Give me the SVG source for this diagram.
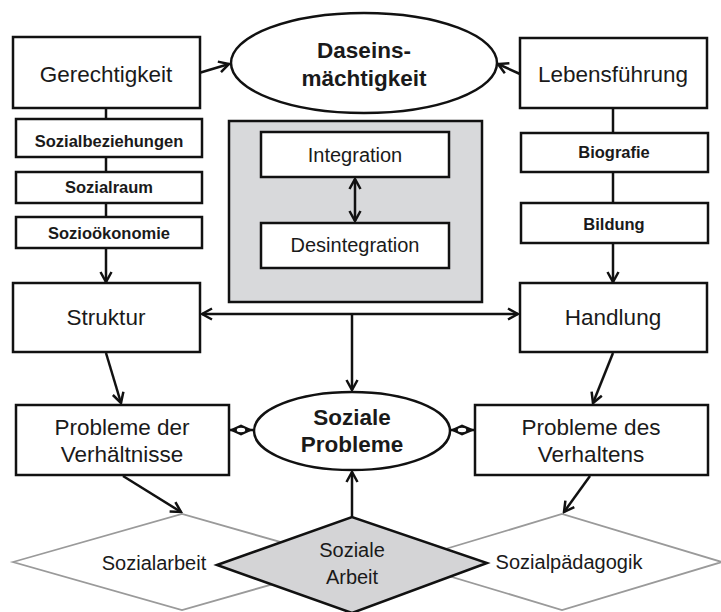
<svg xmlns="http://www.w3.org/2000/svg" width="721" height="612" viewBox="0 0 721 612">
<defs>
<style>
.box{fill:#fff;stroke:#111;stroke-width:2.5}
.t{font-family:"Liberation Sans",Arial,sans-serif;fill:#1a1a1a;text-anchor:middle}
.big{font-size:22.5px}
.bold{font-weight:bold}
.small{font-size:16.5px;font-weight:bold}
.mid{font-size:20px}
.c{stroke:#111;stroke-width:2.5;fill:none}
.ld{fill:#fff;stroke:#9a9a9a;stroke-width:1.8}
</style>
<marker id="ah" markerUnits="userSpaceOnUse" markerWidth="14" markerHeight="14" refX="12" refY="7" orient="auto-start-reverse">
<path d="M2,1.5 L12,7 L2,12.5" fill="none" stroke="#111" stroke-width="2.5"/>
</marker>
</defs>
<rect width="721" height="612" fill="#fff"/>

<g id="sozialarbeit">
<polygon class="ld" points="13,562 182,514 351,562 182,610"/>
<text class="t mid" x="154" y="570">Sozialarbeit</text>
</g>
<g id="sozialpaedagogik">
<polygon class="ld" points="402,562 562,514 722,562 562,610"/>
<text class="t mid" x="569" y="569">Sozialpädagogik</text>
</g>
<g id="integration-container">
<rect x="229" y="121" width="253" height="181" fill="#d8d9db" stroke="#111" stroke-width="2.5"/>
</g>

<g id="connectors">
<line class="c" x1="199" y1="73" x2="229" y2="64" marker-end="url(#ah)"/>
<line class="c" x1="520" y1="74" x2="498" y2="64" marker-end="url(#ah)"/>
<line class="c" x1="106" y1="108" x2="106" y2="119"/>
<line class="c" x1="106" y1="157" x2="106" y2="172"/>
<line class="c" x1="106" y1="203" x2="106" y2="217"/>
<line class="c" x1="106" y1="248" x2="106" y2="282" marker-end="url(#ah)"/>
<line class="c" x1="613" y1="108" x2="613" y2="133"/>
<line class="c" x1="613" y1="172" x2="613" y2="203"/>
<line class="c" x1="613" y1="243" x2="613" y2="282" marker-end="url(#ah)"/>
<line class="c" x1="355" y1="179" x2="355" y2="221" marker-start="url(#ah)" marker-end="url(#ah)"/>
<line class="c" x1="202" y1="314" x2="518" y2="314" marker-start="url(#ah)" marker-end="url(#ah)"/>
<line class="c" x1="352" y1="314" x2="352" y2="390" marker-end="url(#ah)"/>
<line class="c" x1="106" y1="353" x2="121" y2="403" marker-end="url(#ah)"/>
<line class="c" x1="613" y1="353" x2="593" y2="403" marker-end="url(#ah)"/>
<line class="c" x1="123" y1="476" x2="181" y2="512" marker-end="url(#ah)"/>
<line class="c" x1="590" y1="476" x2="564" y2="512" marker-end="url(#ah)"/>
<line class="c" x1="352" y1="517" x2="352" y2="472" marker-end="url(#ah)"/>
<line class="c" x1="229" y1="430" x2="253" y2="430"/>
<path d="M229,430 L241,424.5 L253,430 L241,435.5 Z" fill="#111"/>
<ellipse cx="241" cy="430" rx="5" ry="3" fill="#fff" stroke="#111" stroke-width="1.5"/>
<line class="c" x1="450" y1="430" x2="475" y2="430"/>
<path d="M450,430 L462,424.5 L475,430 L462,435.5 Z" fill="#111"/>
<ellipse cx="462" cy="430" rx="5" ry="3" fill="#fff" stroke="#111" stroke-width="1.5"/>
</g>

<g id="soziale-arbeit">
<polygon points="217,565 352,517 487,563 352,613" fill="#d4d4d6" stroke="#111" stroke-width="2.5"/>
<text class="t mid" x="352" y="557">Soziale</text>
<text class="t mid" x="352" y="584">Arbeit</text>
</g>

<g id="gerechtigkeit">
<rect class="box" x="13" y="37" width="187" height="71"/>
<text class="t big" x="106" y="82">Gerechtigkeit</text>
</g>
<g id="daseinsmaechtigkeit">
<ellipse cx="364" cy="63" rx="133" ry="50" fill="#fff" stroke="#111" stroke-width="2.5"/>
<text class="t big bold" x="364" y="58">Daseins-</text>
<text class="t big bold" x="364" y="86">mächtigkeit</text>
</g>
<g id="lebensfuehrung">
<rect class="box" x="520" y="38" width="187" height="70"/>
<text class="t big" x="613" y="82">Lebensführung</text>
</g>
<g id="sozialbeziehungen">
<rect class="box" x="16" y="119" width="186" height="38"/>
<text class="t small" x="109" y="147">Sozialbeziehungen</text>
</g>
<g id="sozialraum">
<rect class="box" x="16" y="172" width="186" height="31"/>
<text class="t small" x="109" y="193">Sozialraum</text>
</g>
<g id="soziooekonomie">
<rect class="box" x="16" y="217" width="186" height="31"/>
<text class="t small" x="109" y="239">Sozioökonomie</text>
</g>
<g id="biografie">
<rect class="box" x="521" y="133" width="187" height="39"/>
<text class="t small" x="614" y="158">Biografie</text>
</g>
<g id="bildung">
<rect class="box" x="521" y="203" width="187" height="40"/>
<text class="t small" x="614" y="230">Bildung</text>
</g>
<g id="integration">
<rect class="box" x="261" y="132" width="188" height="45"/>
<text class="t mid" x="355" y="162">Integration</text>
</g>
<g id="desintegration">
<rect class="box" x="261" y="223" width="188" height="45"/>
<text class="t mid" x="355" y="252">Desintegration</text>
</g>
<g id="struktur">
<rect class="box" x="13" y="283" width="187" height="69"/>
<text class="t big" x="106" y="325">Struktur</text>
</g>
<g id="handlung">
<rect class="box" x="520" y="283" width="187" height="69"/>
<text class="t big" x="613" y="325">Handlung</text>
</g>
<g id="probleme-verhaeltnisse">
<rect class="box" x="16" y="405" width="213" height="70"/>
<text class="t big" x="122" y="435">Probleme der</text>
<text class="t big" x="122" y="462">Verhältnisse</text>
</g>
<g id="soziale-probleme">
<ellipse cx="352" cy="431" rx="98" ry="39" fill="#fff" stroke="#111" stroke-width="2.5"/>
<text class="t big bold" x="352" y="425">Soziale</text>
<text class="t big bold" x="352" y="452">Probleme</text>
</g>
<g id="probleme-verhalten">
<rect class="box" x="475" y="405" width="233" height="70"/>
<text class="t big" x="591" y="435">Probleme des</text>
<text class="t big" x="591" y="462">Verhaltens</text>
</g>
</svg>
